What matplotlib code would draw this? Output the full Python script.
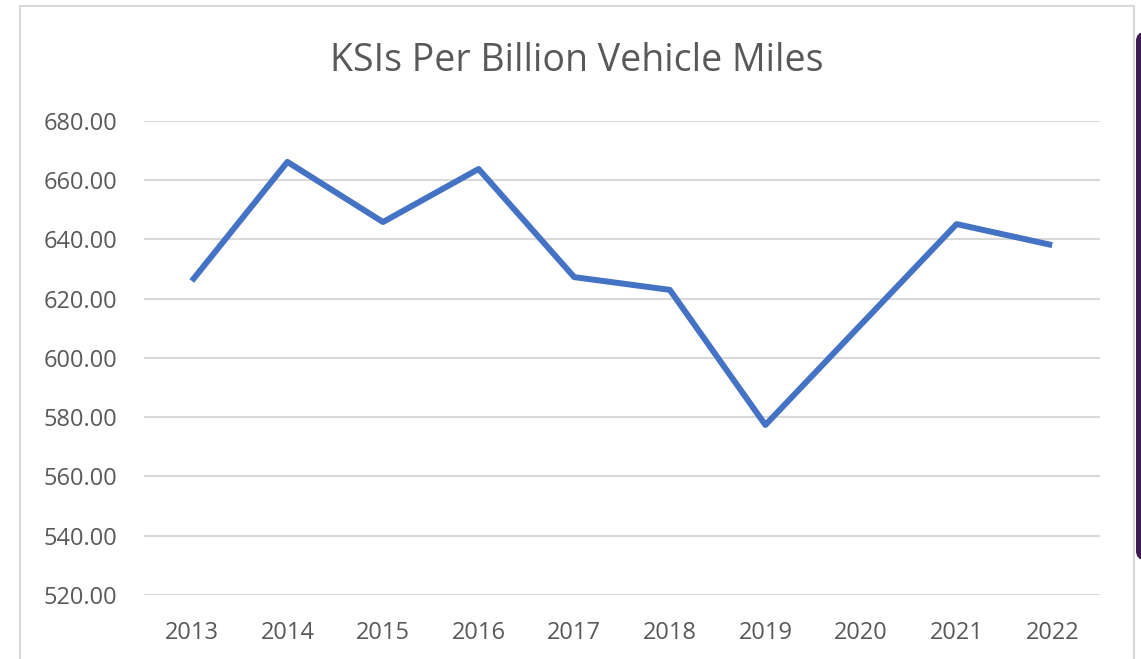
import matplotlib.pyplot as plt
from matplotlib.patches import Rectangle, FancyBboxPatch

# データ
years = ['2013', '2014', '2015', '2016', '2017', '2018', '2019', '2020', '2021', '2022']
ksi_rate = [626.0, 666.2, 645.9, 663.8, 627.3, 623.0, 577.4, 611.3, 645.2, 638.1]
y_ticks = [520, 540, 560, 580, 600, 620, 640, 660, 680]

W, H = 1141, 659
fig = plt.figure(figsize=(W / 100, H / 100), dpi=100)
fig.patch.set_facecolor('white')

# 外枠
fig.patches.append(Rectangle((20 / W, -0.05), (1134 - 20) / W, (H - 6) / H + 0.05,
                             transform=fig.transFigure, facecolor='none',
                             edgecolor='#d9d9d9', linewidth=1.5))
# 右端の紫の帯
fig.patches.append(FancyBboxPatch((1136 / W, (H - 560) / H), 12 / W, (560 - 32) / H,
                                  boxstyle='round,pad=0,rounding_size=0.008',
                                  transform=fig.transFigure, facecolor='#3d1a52',
                                  edgecolor='none', mutation_aspect=W / H))

ax = fig.add_axes([144 / W, (H - 595) / H, (1100 - 144) / W, (595 - 121) / H])
ax.plot(range(len(years)), ksi_rate, color='#4472c4', linewidth=4.3,
        solid_joinstyle='round', solid_capstyle='butt')

ax.set_xlim(-0.5, len(years) - 0.5)
ax.set_ylim(520, 680)
ax.set_yticks(y_ticks)
ax.set_yticklabels(['%.2f' % v for v in y_ticks])
ax.set_xticks(range(len(years)))
ax.set_xticklabels(years)
ax.grid(axis='y', color='#d9d9d9', linewidth=1.5)
ax.set_axisbelow(True)
for s in ax.spines.values():
    s.set_visible(False)
ax.tick_params(length=0, labelsize=17, labelcolor='#595959')
ax.tick_params(axis='y', pad=19)
ax.tick_params(axis='x', pad=19)
for lab in ax.get_xticklabels() + ax.get_yticklabels():
    lab.set_fontfamily('Open Sans')

fig.text(577 / W, 1 - 61 / H, 'KSIs Per Billion Vehicle Miles', ha='center', va='center',
         fontsize=27, color='#595959', fontfamily='Open Sans')

fig.savefig('out.png', dpi=100)
